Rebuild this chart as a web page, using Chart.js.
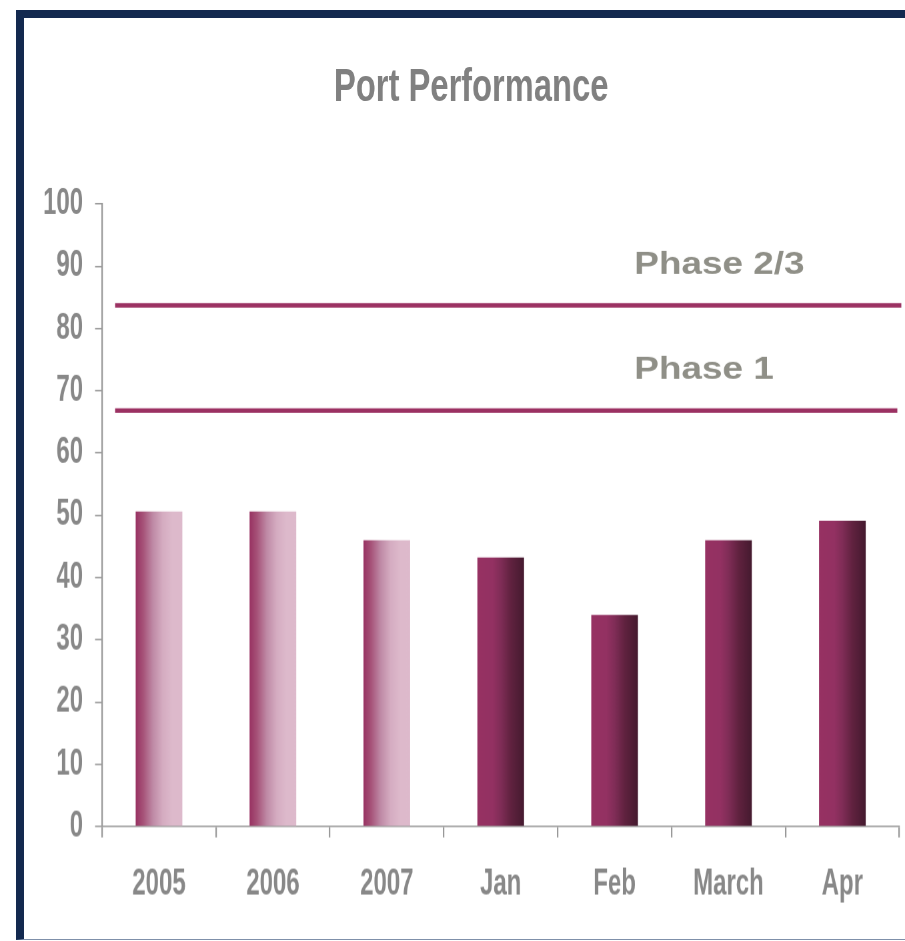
<!DOCTYPE html>
<html>
<head>
<meta charset="utf-8">
<script src="https://cdn.jsdelivr.net/npm/chart.js@4/dist/chart.umd.min.js"></script>
<style>
  html, body { margin: 0; padding: 0; background: #ffffff; }
  body { width: 905px; height: 941px; position: relative; overflow: hidden; }
  #frame {
    position: absolute; left: 16px; top: 10px; width: 889px; height: 930px;
    box-sizing: border-box;
    border-top: 8px solid #13294f; border-left: 8px solid #13294f;
    border-bottom: 1px solid #7f90aa;
  }
  /* the original chart is a vertically stretched picture: lay out at 1/1.5 height, then stretch */
  #wrap { position: absolute; left: 0; top: 0; width: 905px; height: 627.33px;
          transform: scaleY(1.5); transform-origin: 0 0; }
</style>
</head>
<body>
<div id="frame"></div>
<div id="wrap"><canvas id="c"></canvas></div>
<script>
const chartTitle = 'Port Performance';
const categories = ['2005', '2006', '2007', 'Jan', 'Feb', 'March', 'Apr'];
const performance = [50.6, 50.6, 46, 43.2, 34, 46, 49.1];
const yTicks = [0, 10, 20, 30, 40, 50, 60, 70, 80, 90, 100];
const phaseLabels = ['Phase 2/3', 'Phase 1'];
const phaseValues = [83.7, 66.8];

const STRETCH = 1.5;
const FONT = "'Liberation Sans', Arial, sans-serif";
const BAR_PCT = 0.41;

function barGradient(c) {
  const chart = c.chart;
  if (!chart.chartArea || c.dataIndex === undefined) return '#963263';
  const xs = chart.scales.x;
  const cx = xs.getPixelForValue(c.dataIndex);
  const w = (xs.width / categories.length) * BAR_PCT;
  const g = chart.ctx.createLinearGradient(cx - w / 2, 0, cx + w / 2, 0);
  if (/^\d{4}$/.test(categories[c.dataIndex])) {
    g.addColorStop(0, '#983262');
    g.addColorStop(0.16, '#a65278');
    g.addColorStop(0.37, '#bf8aa6');
    g.addColorStop(0.58, '#d5acc1');
    g.addColorStop(0.78, '#ddb9cb');
    g.addColorStop(1, '#ddbacc');
  } else {
    g.addColorStop(0, '#973263');
    g.addColorStop(0.33, '#933162');
    g.addColorStop(0.5, '#802d57');
    g.addColorStop(0.72, '#60223f');
    g.addColorStop(1, '#451a2f');
  }
  return g;
}

const decorPlugin = {
  id: 'decor',
  afterDatasetsDraw(chart) {
    const { ctx, chartArea } = chart;
    const ys = chart.scales.y;
    ctx.save();
    // title (placed off-centre like the original)
    ctx.save();
    ctx.translate(chartArea.left + 369, 58.7);
    ctx.scale(1.054, 1);
    ctx.fillStyle = '#808080';
    ctx.font = "bold 31px " + FONT;
    ctx.textAlign = 'center';
    ctx.textBaseline = 'middle';
    ctx.fillText(chartTitle, 0, 0);
    ctx.restore();
    // phase threshold lines and their labels
    phaseValues.forEach((v, i) => {
      const y = ys.getPixelForValue(v);
      ctx.strokeStyle = '#9b3162';
      ctx.lineWidth = 3;
      ctx.beginPath();
      ctx.moveTo(chartArea.left + 13, y);
      ctx.lineTo(chartArea.right + (i === 0 ? 2 : -2), y);
      ctx.stroke();
      ctx.save();
      ctx.translate(chartArea.left + 532, y - 40 / STRETCH);
      ctx.scale(1.19, 1 / STRETCH);
      ctx.fillStyle = '#8f8f87';
      ctx.font = "bold 31px " + FONT;
      ctx.textAlign = 'left';
      ctx.textBaseline = 'middle';
      ctx.fillText(phaseLabels[i], 0, 0);
      ctx.restore();
    });
    ctx.restore();
  }
};

new Chart(document.getElementById('c'), {
  type: 'bar',
  data: {
    labels: categories,
    datasets: [{
      data: performance,
      backgroundColor: barGradient,
      borderWidth: 0,
      categoryPercentage: 1,
      barPercentage: BAR_PCT
    }]
  },
  options: {
    responsive: true,
    maintainAspectRatio: false,
    animation: false,
    devicePixelRatio: 1.5,
    layout: { padding: { left: 0, right: 6, top: 136, bottom: 0 } },
    plugins: {
      legend: { display: false },
      tooltip: { enabled: false },
      title: { display: false }
    },
    scales: {
      x: {
        grid: { display: true, drawOnChartArea: false, drawTicks: true, tickLength: 7.3, color: '#999999', lineWidth: 1.5, offset: true },
        border: { display: true, color: '#999999', width: 1 },
        ticks: { color: '#888888', padding: 17, font: { family: FONT, size: 24, weight: 'bold' }, maxRotation: 0, autoSkip: false },
        afterFit(scale) { scale.height = 76; }
      },
      y: {
        min: 0, max: 100,
        afterBuildTicks(scale) { scale.ticks = yTicks.map(v => ({ value: v })); },
        grid: { display: true, drawOnChartArea: false, drawTicks: true, tickLength: 7, color: '#999999', lineWidth: 1 },
        border: { display: true, color: '#999999', width: 1.5 },
        ticks: { color: '#888888', padding: 12, font: { family: FONT, size: 24, weight: 'bold' } },
        afterFit(scale) { scale.width = 102; }
      }
    }
  },
  plugins: [decorPlugin]
});
</script>
</body>
</html>
